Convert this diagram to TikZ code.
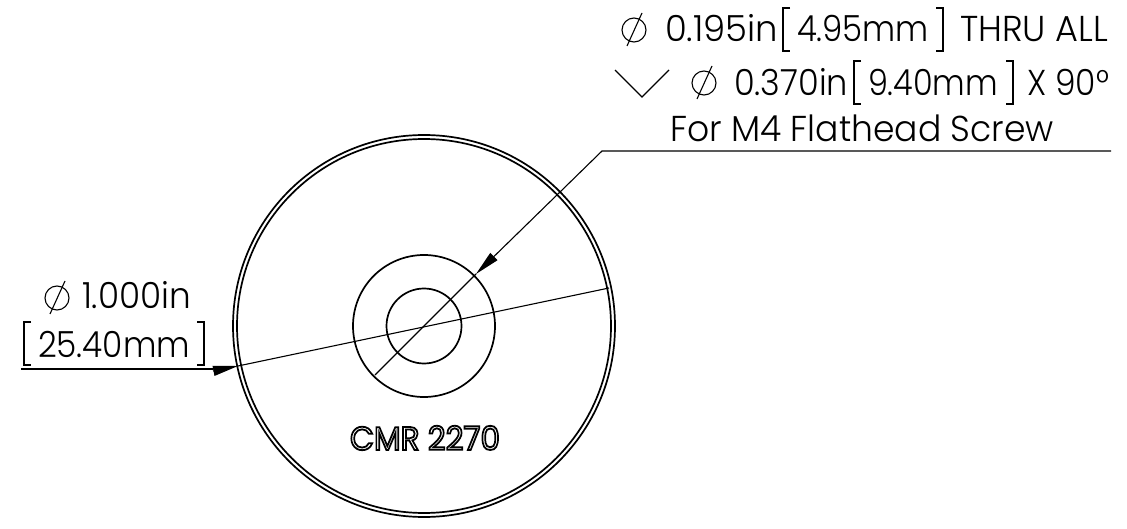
\documentclass[tikz,border=0pt]{standalone}
\usepackage{fontspec}
\usepackage{graphicx}
\usetikzlibrary{arrows.meta}
\setmainfont{Poppins}[UprightFont=* Light]
\newfontfamily\medfont{Poppins}
\tikzset{
  x=1pt,y=-1pt,
  dim/.style={inner sep=0pt,outer sep=0pt,anchor=base west,font=\fontsize{36}{36}\selectfont,text=black},
  thin line/.style={draw=black,line width=1.1pt},
  geom/.style={draw=black,line width=1.7pt},
  head/.style={-{Triangle[length=25pt,width=10pt]}}
}
\newcommand{\fit}[2]{\resizebox{#1pt}{\height}{#2}}
\newcommand{\phisym}[2]{\draw[thin line] (#1,#2) circle (12);\draw[thin line] (#1+8,#2-17) -- (#1-7,#2+16);}
\newcommand{\lbrk}[3]{\draw[thin line] (#1+7,#2) -- (#1,#2) -- (#1,#3) -- (#1+7,#3);}
\newcommand{\rbrk}[3]{\draw[thin line] (#1-7,#2) -- (#1,#2) -- (#1,#3) -- (#1-7,#3);}
\begin{document}
\begin{tikzpicture}
\useasboundingbox (0,0) rectangle (1127,529);
\coordinate (c) at (424,326);
% circles
\draw[geom] (c) circle (191);
\draw[geom] (c) circle (187);
\draw[geom] (c) circle (71);
\draw[geom] (c) circle (37.5);
% leader top
\coordinate (a) at (1111,151);
\coordinate (b) at (602,151);
\coordinate (t) at (476,274);
\coordinate (e) at (375,375);
\draw[thin line,head] (a) -- (b) -- (t);
\draw[thin line] (t) -- (e);
% diameter
\coordinate (p) at (21,369);
\coordinate (q) at (213,371);
\coordinate (q0) at (213,369);
\coordinate (r) at (238,366);
\coordinate (s) at (609,288);
\draw[thin line] (p) -- (q0);
\draw[thin line,head] (q) -- (r);
\draw[thin line] (r) -- (s);
% top text
\phisym{634}{30}
\node[dim] (l1a) at (665,42) {\fit{113}{0.195in}};
\lbrk{783}{8}{51}
\node[dim] (l1b) at (797,42) {\fit{132}{4.95mm}};
\rbrk{943}{8}{51}
\node[dim] (l1c) at (960,42) {\fit{148}{THRU ALL}};
\coordinate (v1) at (615,70);
\coordinate (v2) at (642,97);
\coordinate (v3) at (669,70);
\draw[thin line] (v1) -- (v2) -- (v3);
\phisym{704}{83}
\node[dim] (l2a) at (734,96) {\fit{114}{0.370in}};
\lbrk{854}{61}{104}
\node[dim] (l2b) at (868,96) {\fit{130}{9.40mm}};
\rbrk{1013}{61}{104}
\node[dim] (l2c) at (1027,96) {\fit{82}{X 90°}};
\node[dim] (l3) at (670,142) {\fit{384}{For M4 Flathead Screw}};
% left text
\phisym{57}{298}
\node[dim] (d1) at (82,309) {\fit{109}{1.000in}};
\lbrk{24}{322}{365}
\node[dim] (d2) at (38,357) {\fit{152}{25.40mm}};
\rbrk{204}{322}{365}
% engraved
\node[dim,anchor=base,font=\medfont\fontsize{33}{33}\selectfont] (cmr) at (425,450) {\resizebox{150pt}{\height}{\special{pdf:code 1 Tr 1.8 w}CMR 2270\special{pdf:code 0 Tr}}};
\end{tikzpicture}
\end{document}
